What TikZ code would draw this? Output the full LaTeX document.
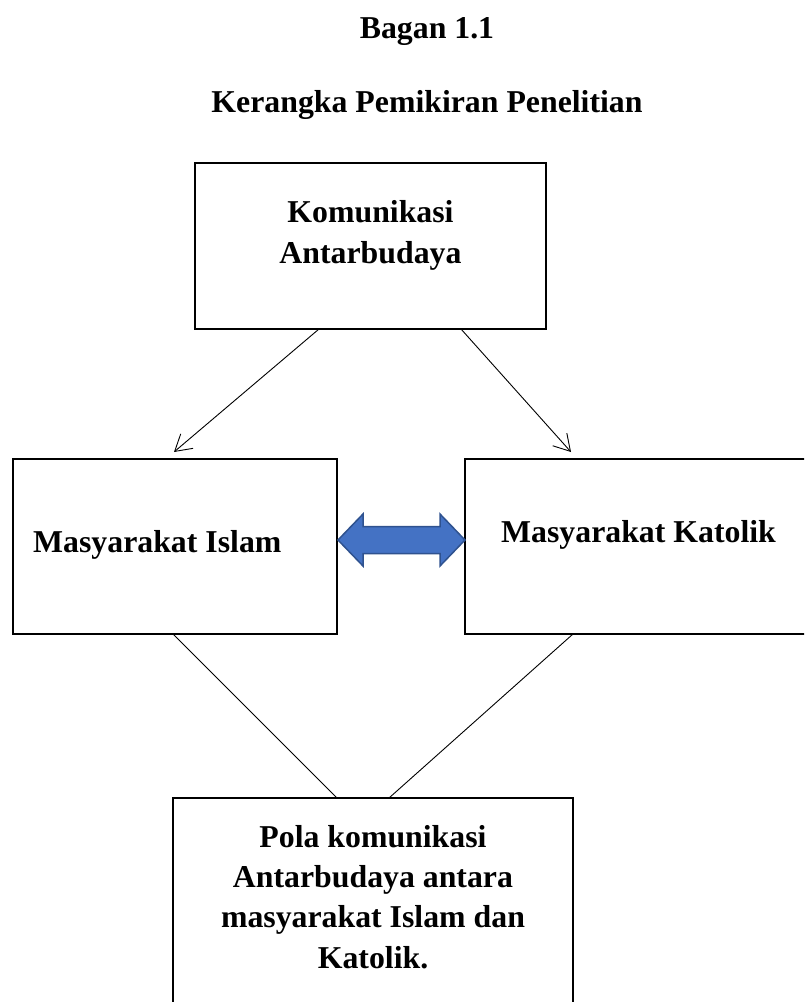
\documentclass[tikz,border=0pt]{standalone}
\usepackage{fontspec}
\setmainfont{Liberation Serif}
\usetikzlibrary{arrows.meta,calc}
\definecolor{biru}{HTML}{4472C4}
\definecolor{birutua}{HTML}{2F528F}

\begin{document}
\begin{tikzpicture}[x=1pt,y=-1pt,
        kotak/.style={draw,line width=2.2pt,inner sep=0pt,outer sep=0pt},
        tulisan/.style={font=\fontsize{31.8}{40.3}\selectfont\bfseries,inner sep=0pt,align=center},
        panah/.style={line width=0.9pt,-{Straight Barb[length=16pt,width=19pt,line width=0.9pt]}},
        garis/.style={line width=0.9pt},
        duaarah/.style={fill=biru,draw=birutua,line width=1.5pt,line join=miter}]
        \useasboundingbox (0,0) rectangle (804,1002);
        \clip (0,0) rectangle (804,1002);

        \node[tulisan,anchor=base] (bagan) at (427,38) {Bagan 1.1};
        \node[tulisan,anchor=base] (judul) at (427,112) {Kerangka Pemikiran Penelitian};

        % kotak-kotak
        \node[kotak,minimum width=351pt,minimum height=166pt] (kab) at (370.5,246) {};
        \node[kotak,minimum width=324pt,minimum height=175pt] (islam) at (175,546.5) {};
        \node[kotak,minimum width=350pt,minimum height=175pt] (katolik) at (640,546.5) {};
        \node[kotak,minimum width=400pt,minimum height=217pt] (pola) at (373,906.5) {};

        \node[tulisan,anchor=base] (kabtxt) at (370.5,263) {Komunikasi\\Antarbudaya};
        \node[tulisan,anchor=base west] (islamtxt) at (33,552) {Masyarakat Islam};
        \node[tulisan,anchor=base west] (katoliktxt) at (501,542) {Masyarakat Katolik};
        \node[tulisan,anchor=base] (polatxt) at (373,968) {Pola komunikasi\\Antarbudaya antara\\masyarakat Islam dan\\Katolik.};

        \draw[panah] ($(kab.south west)+(124,0)$) -- ($(islam.north west)+(161,-7)$);
        \draw[panah] ($(kab.south west)+(266,0)$) -- ($(katolik.north west)+(106,-7)$);
        \draw[garis] ($(islam.south west)+(160,0)$) -- ($(pola.north west)+(164,0)$);
        \draw[garis] ($(katolik.south west)+(108,0)$) -- ($(pola.north west)+(216,0)$);

        \filldraw[duaarah] ($(islam.east)+(1,-6.5)$) -- ++(25,-26) -- ++(0,12.5) -- ++(77,0) -- ++(0,-12.5)
            -- ++(25,26) -- ++(-25,26) -- ++(0,-12.5) -- ++(-77,0) -- ++(0,12.5) -- cycle;
\end{tikzpicture}
\end{document}
